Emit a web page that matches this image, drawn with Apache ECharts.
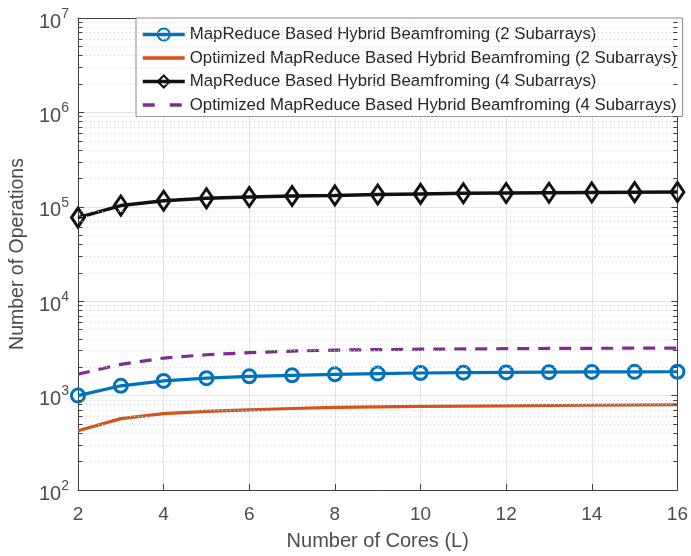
<!DOCTYPE html>
<html><head><meta charset="utf-8">
<script src="https://cdn.jsdelivr.net/npm/echarts@6/dist/echarts.min.js"></script>
<style>html,body{margin:0;padding:0;background:#fff}#c{width:691px;height:556px}</style>
</head><body><div id="c"></div>
<script>
const cores = [2,3,4,5,6,7,8,9,10,11,12,13,14,15,16];
const mr2  = [1000,1270,1430,1530,1600,1640,1680,1710,1735,1750,1760,1770,1780,1785,1790];
const opt2 = [425,570,645,680,705,730,750,760,768,775,780,785,790,795,800];
const mr4  = [76800,103000,116000,123000,127000,130000,132000,135000,137000,139000,140000,141000,142000,143000,143500];
const opt4 = [1690,2140,2500,2710,2850,2960,3030,3070,3100,3120,3140,3160,3170,3180,3190];
const names = [
 'MapReduce Based Hybrid Beamfroming (2 Subarrays)',
 'Optimized MapReduce Based Hybrid Beamfroming (2 Subarrays)',
 'MapReduce Based Hybrid Beamfroming (4 Subarrays)',
 'Optimized MapReduce Based Hybrid Beamfroming (4 Subarrays)'
];
const yMin = 100, yMax = 1e7;

const font = '"Liberation Sans", Arial, Helvetica, sans-serif';
const axisCol = '#404040';
const txtCol = '#4d4d4d';

function pair(a,b){ return a.map((c,i)=>[c,b[i]]); }

const minorVals = [];
for (let d=2; d<7; d++) for (let m=2; m<=9; m++) minorVals.push(m*Math.pow(10,d));
const minorGrid = minorVals.map(v=>({yAxis:v}));
const minorTicks = [];
minorVals.forEach(v=>{
  minorTicks.push([{coord:[2,v]},{coord:[2.1,v]}]);
  minorTicks.push([{coord:[15.9,v]},{coord:[16,v]}]);
});

const chart = echarts.init(document.getElementById('c'), null, {renderer:'canvas'});
chart.setOption({
  animation:false,
  backgroundColor:'#fff',
  textStyle:{fontFamily:font},
  grid:{left:73,right:11,top:18,bottom:58},
  legend:{
    data:[
      {name:names[0], lineStyle:{width:3.5,type:'solid',color:'#0072BD'}},
      {name:names[1], itemStyle:{opacity:0}, lineStyle:{width:3.5,type:'solid',color:'#D95319'}},
      {name:names[2], lineStyle:{width:3.5,type:'solid',color:'#111'}},
      {name:names[3], itemStyle:{opacity:0}, lineStyle:{width:3.5,type:[12,15],color:'#7E2F8E'}}
    ],
    orient:'vertical', left:136, top:18,
    backgroundColor:'#fff', borderColor:'#8a8a8a', borderWidth:1,
    padding:[8,6,3,5], itemGap:6.5, itemWidth:42, itemHeight:15,
    textStyle:{fontSize:16.8,color:'#262626',fontFamily:font}
  },
  xAxis:[{
    type:'value', min:2, max:16, interval:2, position:'bottom',
    name:'Number of Cores (L)', nameLocation:'middle', nameGap:41,
    nameTextStyle:{fontSize:20,color:txtCol,fontFamily:font},
    axisLine:{show:true,lineStyle:{color:axisCol,width:1}},
    axisTick:{show:true,inside:true,length:6,lineStyle:{color:axisCol}},
    axisLabel:{fontSize:19,color:txtCol,margin:15,fontFamily:font},
    splitLine:{show:true,lineStyle:{color:'#e3e3e3',width:1}}
  },{
    type:'value', min:2, max:16, interval:2, position:'top',
    axisLine:{show:true,lineStyle:{color:axisCol,width:1}},
    axisTick:{show:true,inside:true,length:6,lineStyle:{color:axisCol}},
    axisLabel:{show:false}, splitLine:{show:false}
  }],
  yAxis:[{
    type:'log', logBase:10, min:yMin, max:yMax, position:'left',
    name:'Number of Operations', nameLocation:'middle', nameGap:50,
    nameTextStyle:{fontSize:19.5,color:txtCol,fontFamily:font},
    axisLine:{show:true,lineStyle:{color:axisCol,width:1}},
    axisTick:{show:true,inside:true,length:6,lineStyle:{color:axisCol}},
    axisLabel:{
      margin:9, fontFamily:font,
      formatter:v=>'{b|10}{s|'+Math.round(Math.log10(v))+'}',
      rich:{b:{fontSize:20,color:txtCol,fontFamily:font,padding:[8,0,0,0]},
            s:{fontSize:14,color:txtCol,fontFamily:font,padding:[0,0,8,0]}}
    },
    splitLine:{show:true,lineStyle:{color:'#e3e3e3',width:1}}
  },{
    type:'log', logBase:10, min:yMin, max:yMax, position:'right',
    axisLine:{show:true,lineStyle:{color:axisCol,width:1}},
    axisTick:{show:true,inside:true,length:6,lineStyle:{color:axisCol}},
    axisLabel:{show:false}, splitLine:{show:false}
  }],
  series:[
    {type:'line', name:'grid', data:[], z:1, silent:true,
     markLine:{silent:true,symbol:'none',label:{show:false},animation:false,
       lineStyle:{type:[1,3],color:'#cfcfcf',width:1}, data:minorGrid}},
    {type:'line', name:'ticks', data:[], z:1, silent:true,
     markLine:{silent:true,symbol:'none',label:{show:false},animation:false,
       lineStyle:{type:'solid',color:axisCol,width:1}, data:minorTicks}},
    {type:'line', name:names[0], data:pair(cores,mr2), z:4,
     lineStyle:{color:'#0072BD',width:3.2}, symbol:'circle', symbolSize:13, showSymbol:true,
     itemStyle:{color:'rgba(255,255,255,0)',borderColor:'#0072BD',borderWidth:3}},
    {type:'line', name:names[1], data:pair(cores,opt2), z:3,
     lineStyle:{color:'#D95319',width:3.2}, symbol:'none', itemStyle:{color:'#D95319'}},
    {type:'line', name:names[2], data:pair(cores,mr4), z:4,
     lineStyle:{color:'#111',width:3.5}, symbol:'diamond', symbolSize:[13,19], showSymbol:true,
     itemStyle:{color:'rgba(255,255,255,0)',borderColor:'#111',borderWidth:3}},
    {type:'line', name:names[3], data:pair(cores,opt4), z:3,
     lineStyle:{color:'#7E2F8E',width:3.2,type:[12,9]}, symbol:'none', itemStyle:{color:'#7E2F8E'}}
  ]
});
</script>
</body></html>
